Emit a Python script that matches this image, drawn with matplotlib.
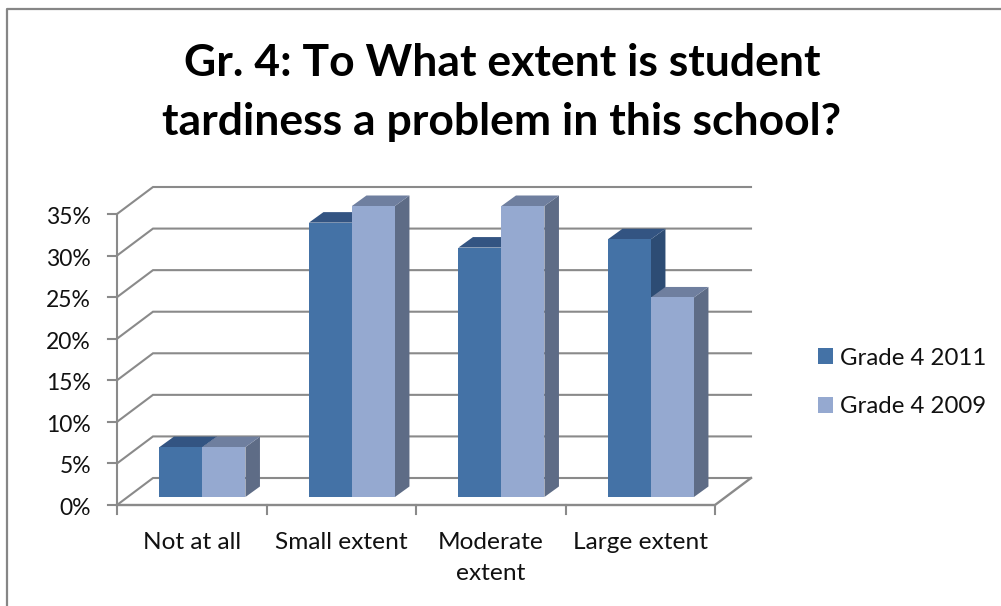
import matplotlib
matplotlib.use("Agg")
import matplotlib.pyplot as plt
from matplotlib.patches import Patch

categories = ["Not at all", "Small extent", "Moderate\nextent", "Large extent"]
grade_2011 = [6, 33, 30, 31]
grade_2009 = [6, 35, 35, 24]
series_names = ["Grade 4 2011", "Grade 4 2009"]
y_ticks = [0, 5, 10, 15, 20, 25, 30, 35]
title = "Gr. 4: To What extent is student\ntardiness a problem in this school?"

W, H = 1001, 606
L, R, B, T = 117, 715, 505, 214   # front plane in pixels
plt.rcParams["font.family"] = ["Lato", "DejaVu Sans"]
fig = plt.figure(figsize=(W / 100, H / 100), dpi=100, facecolor="white")
ax = fig.add_axes([L / W, 1 - B / H, (R - L) / W, (B - T) / H])
ax.set_xlim(0, len(categories))
ax.set_ylim(0, 35)
ax.axis("off")

px = len(categories) / (R - L)       # category units per pixel
py = 35 / (B - T)                    # percent per pixel
DX, DY = 36 * px, 27 * py            # wall depth
GRAY = "#8a8a8a"
LW = 1.5

# Gridlines and walls
for v in y_ticks:
    ax.plot([0, DX, len(categories) + DX], [v, v + DY, v + DY], color=GRAY, lw=LW,
            clip_on=False, zorder=1, solid_joinstyle="miter")
    ax.plot([-9 * px, 0], [v, v], color=GRAY, lw=LW, clip_on=False, zorder=2)
ax.plot([0, 0], [0, 35], color=GRAY, lw=LW, clip_on=False, zorder=2)
n = len(categories)
ax.plot([0, n, n + DX], [0, 0, DY], color=GRAY, lw=LW + 0.2, clip_on=False, zorder=2)
for i in range(n + 1):
    ax.plot([i, i], [0, -9 * py], color=GRAY, lw=LW, clip_on=False, zorder=2)

# 3-D bars
bw = 43 * px
bar_dx, bar_dy = 14.5 * px, 10.5 * py
off_x, off_y = 10.7 * px, 8 * py
styles = [("#4472A6", "#335482", "#2D4C74"), ("#95A9D0", "#6F7F9F", "#5E6C86")]
for s, vals in enumerate([grade_2011, grade_2009]):
    front, top, side = styles[s]
    for i, v in enumerate(vals):
        x0 = i + 0.5 + off_x - bw + s * bw
        x1 = x0 + bw
        y0 = off_y
        y1 = off_y + v
        z = 3 + s + 0.1 * i
        ax.fill([x1, x1 + bar_dx, x1 + bar_dx, x1], [y0, y0 + bar_dy, y1 + bar_dy, y1],
                color=side, lw=0, clip_on=False, zorder=z)
        ax.fill([x0, x0 + bar_dx, x1 + bar_dx, x1], [y1, y1 + bar_dy, y1 + bar_dy, y1],
                color=top, lw=0, clip_on=False, zorder=z)
        ax.bar(x0, v, width=bw, bottom=y0, align="edge", color=front, lw=0, clip_on=False, zorder=z + 0.05)

# Text
for v in y_ticks:
    ax.text(-26 * px, v - 3.5 * py, f"{v}%", ha="right", va="center", fontsize=16.5, color="#111111", clip_on=False)
for i, c in enumerate(categories):
    ax.text(i + 0.5, -27 * py, c, ha="center", va="top", fontsize=17.6, color="#111111",
            linespacing=1.56, clip_on=False)
fig.text(502 / W, 1 - 92.5 / H, title, ha="center", va="center", fontsize=32, fontweight="bold",
         color="black", linespacing=1.55)

# Legend
handles = [Patch(color=styles[0][0], lw=0), Patch(color=styles[1][0], lw=0)]
fig.legend(handles, series_names, loc="center left", bbox_to_anchor=(818 / W, 1 - 382.5 / H), frameon=False,
           fontsize=17.3, handlelength=0.63, handleheight=0.63, handletextpad=0.3, labelspacing=1.15,
           borderpad=0, borderaxespad=0, labelcolor="#111111")

# Chart frame (top and left edges)
fig.add_artist(plt.Line2D([7 / W, 7 / W, 1], [0, 1 - 9 / H, 1 - 9 / H], color="#868686", lw=1.6,
                          transform=fig.transFigure))

fig.savefig("out.png", dpi=100)
